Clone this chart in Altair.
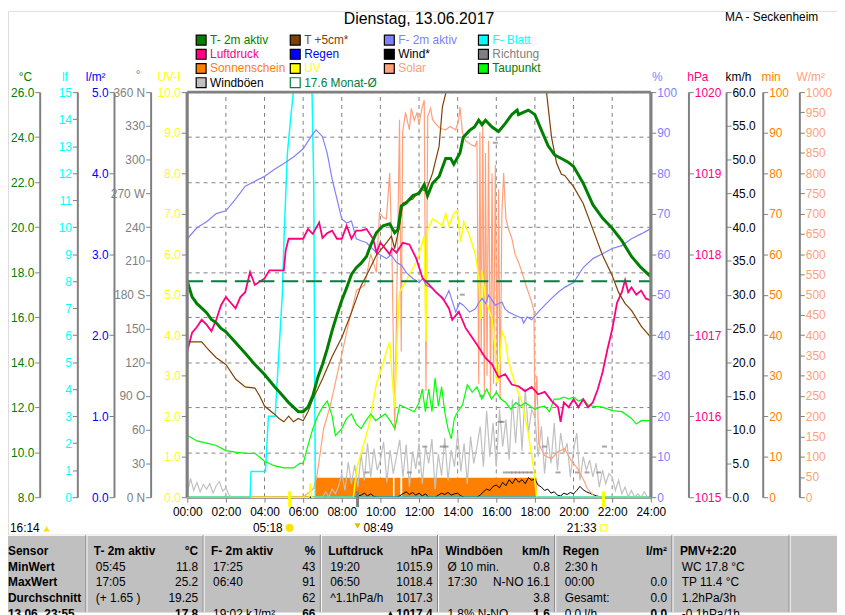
import altair as alt
import pandas as pd

FONT = "Liberation Sans"
GRAY = "#808080"

# ------------------------------------------------------------------ data
TITLE = "Dienstag, 13.06.2017"
STATION = "MA - Seckenheim"
DAYLEN = "16:14"

# (hour, value)
T2M = [(0.0,17.6),(0.25,16.9),(0.5,16.6),(0.75,16.4),(1.0,16.2),(1.25,15.9),(1.5,15.75),(1.75,15.5),(2.0,15.35),(2.5,14.87),(3.0,14.4),(3.5,13.9),(4.0,13.45),(4.5,12.93),(5.0,12.45),(5.25,12.2),(5.5,12.0),(5.75,11.8),(6.0,11.8),(6.25,12.0),(6.5,12.5),(6.75,13.3),(7.0,13.9),(7.25,14.6),(7.5,15.4),(7.75,16.1),(8.0,16.75),(8.25,17.3),(8.5,17.9),(8.75,18.2),(9.0,18.4),(9.28,18.7),(9.5,19.2),(9.79,19.75),(10.14,20.06),(10.48,20.15),(10.74,19.75),(10.91,19.9),(11.08,20.94),(11.33,21.07),(11.68,21.4),(12.0,21.5),(12.27,21.9),(12.44,21.4),(12.7,21.95),(13.04,22.25),(13.38,23.05),(13.64,23.05),(13.8,22.8),(14.12,23.3),(14.29,24.0),(14.62,24.3),(14.87,24.45),(15.09,24.75),(15.26,24.55),(15.44,24.75),(15.78,24.45),(16.12,24.25),(16.46,24.6),(16.8,25.0),(17.08,25.2),(17.15,25.0),(17.4,25.1),(17.66,25.2),(18.0,25.0),(18.34,24.3),(18.69,23.6),(19.03,23.2),(19.37,23.05),(19.7,22.9),(20.0,22.7),(20.5,21.95),(21.0,21.0),(21.5,20.4),(22.0,19.95),(22.5,19.4),(23.0,18.7),(23.5,18.2),(24.0,17.8)]

T5CM = [(0.0,14.9),(0.75,14.9),(1.0,14.65),(1.5,14.2),(2.0,13.9),(2.5,13.25),(3.0,12.9),(3.5,12.85),(3.75,12.5),(4.0,12.05),(4.5,11.7),(4.75,11.5),(5.0,11.35),(5.25,11.6),(5.5,11.35),(5.75,11.5),(6.0,11.4),(6.25,11.8),(6.5,12.35),(7.0,13.25),(7.5,14.25),(8.0,15.1),(8.5,16.2),(9.0,17.4),(9.28,17.85),(9.79,18.75),(10.31,19.3),(10.57,19.6),(10.74,19.05),(10.99,20.06),(11.16,21.07),(11.68,21.25),(12.1,21.7),(12.36,21.6),(12.7,22.4),(13.04,23.6),(13.21,25.35),(13.4,27.0),(14.0,29.5),(15.0,31.0),(16.0,31.5),(17.0,30.5),(18.0,28.5),(18.6,26.0),(18.86,24.0),(19.12,22.85),(19.37,22.35),(19.54,22.3),(20.0,21.8),(20.5,21.05),(21.0,19.9),(21.5,18.75),(22.0,17.85),(22.33,17.1),(22.67,16.6),(23.0,16.3),(23.5,15.6),(24.0,15.1)]

F2M = [(0.0,63.8),(0.5,66.5),(1.0,68.0),(1.5,70.0),(2.0,70.7),(2.5,73.6),(3.0,76.8),(3.5,78.0),(4.0,79.2),(4.5,80.9),(5.0,82.4),(5.5,84.0),(6.0,86.0),(6.5,89.7),(6.67,90.7),(7.0,89.0),(7.25,84.8),(7.5,78.5),(8.0,68.7),(8.25,67.7),(8.5,68.2),(8.75,63.8),(9.0,63.3),(9.28,62.8),(9.79,60.4),(10.31,58.9),(10.55,59.8),(10.83,58.0),(11.1,57.2),(11.33,55.5),(11.68,54.0),(12.0,53.0),(12.2,54.0),(12.36,52.3),(12.7,51.6),(13.04,49.9),(13.3,48.5),(13.55,51.0),(13.9,45.7),(14.1,48.0),(14.29,47.4),(14.62,45.7),(14.92,46.5),(15.1,48.0),(15.26,49.1),(15.45,47.8),(15.6,49.9),(15.95,47.4),(16.29,48.2),(16.45,46.5),(16.63,45.7),(16.97,44.9),(17.32,44.2),(17.42,43.0),(17.6,44.5),(17.83,43.8),(18.17,45.7),(18.51,47.4),(18.86,49.1),(19.2,50.6),(19.54,51.8),(20.0,53.0),(20.5,56.7),(21.0,58.9),(21.5,60.1),(22.0,61.4),(22.5,62.1),(23.0,63.8),(23.5,65.0),(24.0,66.3)]

FBLATT = [(0.0,0.0),(3.25,0.0),(3.3,0.95),(4.05,0.95),(4.2,3.0),(4.55,3.0),(4.92,7.5),(5.01,9.6),(5.18,12.7),(5.35,14.0),(5.49,15.0),(6.46,15.0),(6.55,11.5),(6.63,0.0),(24.0,0.0)]

PRESS = [(0.0,1016.8),(0.25,1017.03),(0.5,1017.1),(0.75,1017.19),(1.0,1017.13),(1.25,1017.05),(1.5,1017.19),(1.75,1017.37),(2.0,1017.47),(2.25,1017.4),(2.5,1017.33),(2.75,1017.47),(3.0,1017.53),(3.25,1017.78),(3.5,1017.62),(4.0,1017.7),(4.25,1017.8),(5.0,1017.8),(5.1,1018.05),(5.25,1018.19),(6.0,1018.19),(6.25,1018.31),(6.5,1018.25),(6.83,1018.39),(7.0,1018.2),(7.25,1018.26),(7.5,1018.29),(7.75,1018.19),(8.0,1018.19),(8.25,1018.35),(8.5,1018.19),(8.75,1018.29),(9.0,1018.29),(9.28,1018.31),(9.62,1018.19),(9.8,1018.02),(10.0,1018.14),(10.14,1018.1),(10.48,1018.0),(10.6,1018.07),(10.83,1018.02),(11.16,1018.14),(11.5,1018.12),(11.85,1017.95),(12.19,1017.7),(12.53,1017.62),(12.87,1017.53),(13.21,1017.46),(13.55,1017.33),(13.72,1017.19),(14.06,1017.29),(14.41,1017.09),(14.75,1016.97),(15.09,1016.85),(15.44,1016.72),(15.78,1016.64),(16.12,1016.48),(16.46,1016.52),(16.8,1016.39),(17.15,1016.37),(17.49,1016.31),(17.83,1016.36),(18.17,1016.27),(18.51,1016.3),(18.86,1016.19),(19.2,1016.11),(19.33,1015.93),(19.5,1016.17),(19.75,1016.11),(20.0,1016.21),(20.25,1016.11),(20.5,1016.21),(20.75,1016.11),(21.0,1016.17),(21.25,1016.33),(21.5,1016.54),(21.75,1016.82),(22.0,1017.07),(22.25,1017.4),(22.5,1017.53),(22.67,1017.68),(22.83,1017.53),(23.0,1017.59),(23.25,1017.5),(23.5,1017.55),(23.75,1017.45),(24.0,1017.43)]

DEWPT = [(0.0,10.75),(0.5,10.5),(1.0,10.4),(1.5,10.3),(2.0,10.07),(2.5,10.0),(3.0,9.95),(3.5,9.95),(4.0,9.6),(4.5,9.4),(5.0,9.3),(5.5,9.3),(5.83,9.5),(6.0,9.5),(6.25,10.3),(6.5,11.05),(6.75,11.6),(7.0,12.0),(7.25,12.27),(7.5,11.6),(7.67,10.73),(8.0,11.05),(8.25,11.5),(8.5,11.7),(8.75,11.25),(9.0,11.05),(9.25,11.4),(9.5,11.7),(9.75,11.4),(10.0,11.55),(10.25,11.7),(10.5,11.4),(10.75,11.05),(11.0,12.1),(11.25,12.0),(11.5,11.9),(11.75,11.8),(12.0,12.2),(12.17,12.8),(12.33,11.8),(12.5,12.8),(12.67,11.8),(12.83,13.3),(13.0,12.05),(13.17,12.9),(13.33,11.8),(13.5,11.05),(13.67,10.6),(13.83,11.5),(14.0,11.8),(14.25,12.1),(14.5,13.0),(14.75,12.66),(15.0,12.9),(15.25,12.36),(15.5,12.8),(15.75,12.36),(16.0,12.66),(16.25,12.36),(16.5,12.2),(16.75,11.9),(17.0,12.2),(17.25,12.05),(17.5,12.2),(17.75,12.05),(18.0,11.9),(18.25,12.0),(18.5,12.05),(18.75,11.8),(19.0,12.36),(19.25,12.36),(19.5,12.45),(19.75,12.36),(20.0,12.45),(20.25,12.27),(20.5,12.36),(20.75,12.1),(21.0,12.05),(21.5,12.0),(22.0,11.85),(22.5,11.8),(23.0,11.5),(23.25,11.25),(23.5,11.4),(24.0,11.4)]

SOLAR = [(0.0,0),(6.0,0),(6.55,22),(6.72,54),(7.06,169),(7.4,225),(7.74,298),(8.09,372),(8.43,445),(8.77,511),(9.18,523),(9.5,600),(9.79,555),(9.95,702),(10.15,690),(10.31,687),(10.48,800),(10.6,600),(10.74,164),(10.85,500),(10.99,932),(11.08,360),(11.15,900),(11.3,950),(11.5,907),(11.6,960),(11.75,930),(11.9,950),(12.0,920),(12.15,960),(12.27,980),(12.36,262),(12.45,940),(12.6,960),(12.7,932),(12.9,920),(13.1,910),(13.38,907),(13.6,915),(13.9,907),(14.05,930),(14.12,963),(14.25,900),(14.41,880),(14.7,870),(14.9,866),(15.0,880),(15.09,280),(15.15,900),(15.22,350),(15.3,930),(15.38,260),(15.44,850),(15.52,300),(15.6,880),(15.7,250),(15.78,800),(15.86,280),(15.95,820),(16.05,300),(16.12,760),(16.2,240),(16.29,700),(16.38,800),(16.5,687),(16.63,662),(16.8,640),(16.97,600),(17.15,580),(17.3,560),(17.49,530),(17.66,506),(17.83,482),(17.95,460),(18.0,198),(18.1,300),(18.2,132),(18.5,103),(18.86,95),(19.19,112),(19.54,120),(19.88,90),(20.2,71),(20.56,39),(20.7,22),(21.08,2),(21.3,0),(24.0,0)]

UVI = [(0.0,0.0),(6.3,0.0),(6.37,0.34),(6.45,0.0),(8.6,0.0),(8.77,0.7),(9.11,1.27),(9.28,1.55),(9.45,1.86),(9.79,2.8),(10.14,3.3),(10.31,3.6),(10.48,3.84),(10.6,3.0),(10.74,2.2),(10.91,4.4),(10.99,5.06),(11.4,5.4),(11.85,5.8),(12.0,6.0),(12.27,6.45),(12.36,3.84),(12.44,6.6),(12.7,6.87),(12.95,6.8),(13.2,6.7),(13.38,7.0),(13.55,6.7),(13.8,7.0),(13.98,7.07),(14.15,6.3),(14.32,6.8),(14.58,6.5),(14.92,6.0),(15.09,5.4),(15.2,4.4),(15.26,5.6),(15.44,4.9),(15.78,4.4),(15.95,3.6),(16.05,2.8),(16.12,2.95),(16.29,4.1),(16.46,3.9),(16.63,3.35),(16.97,2.8),(17.32,2.37),(17.66,1.56),(17.92,0.75),(18.09,0.0),(24.0,0.0)]

SUN_START = [6.63, 10.73, 11.13]
SUN_END = [10.65, 11.03, 18.09]
SUN_MIN = [4.8, 4.8, 4.8]

RAIN = [(0.0, 0.0), (24.0, 0.0)]

# gusts / mean wind, one value every 10 minutes 00:00 .. 24:00
GUST = [0.5, 2.8, 1.0, 2.2, 0.8, 1.9,
        1.2, 2.0, 0.6, 1.7, 2.3, 0.9,
        1.4, 0.3, 0.0, 0.0, 0.0, 0.0,
        0.0, 0.0, 0.0, 0.0, 0.0, 0.0,
        0.0, 0.0, 0.0, 0.0, 0.0, 0.0,
        0.0, 0.0, 0.0, 0.0, 0.0, 0.0,
        0.0, 0.0, 0.0, 0.0, 0.0, 0.0,
        0.0, 0.8, 0.0, 1.2, 0.5, 1.6,
        3.5, 1.0, 5.2, 2.0, 4.8, 1.5,
        6.5, 2.5, 8.0, 3.0, 7.2, 4.0,
        5.5, 8.2, 2.2, 7.0, 3.5, 6.0,
        8.5, 3.0, 7.8, 1.5, 6.8, 4.2,
        8.0, 2.0, 7.5, 5.0, 8.6, 1.2,
        6.4, 3.2, 8.8, 2.5, 7.0, 4.5,
        9.4, 3.8, 8.0, 2.0, 9.0, 5.0,
        7.5, 10.5, 4.5, 12.8, 6.0, 11.0,
        4.5, 13.0, 7.5, 11.5, 5.5, 14.5,
        8.0, 15.0, 6.9, 16.1, 9.5, 13.0,
        11.9, 6.0, 10.5, 3.5, 9.0, 5.0,
        11.0, 4.0, 9.5, 6.5, 8.0, 3.0,
        7.0, 9.5, 2.5, 6.0, 4.0, 5.5,
        3.0, 5.0, 1.5, 4.0, 2.0, 3.5,
        3.0, 1.0, 2.5, 0.5, 1.5, 0.0,
        1.0, 0.0, 0.5, 0.0, 0.8, 0.0,
        0.0]
WIND = [0, 0, 0, 0, 0, 0,
        0, 0, 0, 0, 0, 0,
        0, 0, 0, 0, 0, 0,
        0, 0, 0, 0, 0, 0,
        0, 0, 0, 0, 0, 0,
        0, 0, 0, 0, 0, 0,
        0, 0, 0, 0, 0, 0,
        0, 0, 0, 0, 0, 0,
        0, 0, 0, 0, 0, 0.2,
        0.3, 0.6, 0.2, 0.5, 0.1, 0.0,
        0.0, 0.0, 0.0, 0.0, 0.0, 0.0,
        0.2, 0.5, 0.8, 0.4, 0.7, 0.3,
        0.6, 0.2, 0.5, 0.0, 0.0, 0.0,
        0.3, 0.6, 0.4, 0.7, 0.3, 0.5,
        0.6, 0.2, 0.0, 0.0, 0.0, 0.0,
        0.0, 0.3, 0.8, 1.2, 1.0, 1.6,
        1.8, 1.4, 2.2, 1.7, 2.6, 2.0,
        2.8, 2.2, 2.6, 2.0, 2.9, 2.5,
        2.7, 1.8, 1.5, 1.0, 1.2, 0.6,
        0.8, 0.3, 0.2, 0.6, 0.4, 0.7,
        0.5, 1.0, 1.6, 1.1, 0.8, 0.6,
        0.4, 0.2, 0.1, 0.0, 0.0, 0.0,
        0, 0, 0, 0, 0, 0,
        0, 0, 0, 0, 0, 0,
        0]

DIRECTION = [(9.3,22),(11.5,22),(12.3,45),(13.2,45),(13.4,45),(14.24,180),(15.26,90),(15.95,315),(16.2,67),(16.3,67),(16.46,22),(16.7,22),(16.9,22),(17.1,22),(17.3,22),(17.5,22),(17.7,22),(17.9,22),(18.5,45),(19.2,22),(20.2,22),(20.7,22),(21.3,22),(21.6,45)]

MONTH_AVG = 17.6

EVENT_H = [5.3, 8.817, 21.55]
EVENT_TXT = ["05:18", "08:49", "21:33"]

# tick values
X_TICKS = [0, 2, 4, 6, 8, 10, 12, 14, 16, 18, 20, 22, 24]
C_TICKS = [8, 10, 12, 14, 16, 18, 20, 22, 24, 26]
LF_TICKS = [0, 1, 2, 3, 4, 5, 6, 7, 8, 9, 10, 11, 12, 13, 14, 15]
RAIN_TICKS = [0, 1, 2, 3, 4, 5]
DIR_TICKS = [0, 30, 60, 90, 120, 150, 180, 210, 240, 270, 300, 330, 360]
UV_TICKS = [0, 1, 2, 3, 4, 5, 6, 7, 8, 9, 10]
PCT_TICKS = [0, 10, 20, 30, 40, 50, 60, 70, 80, 90, 100]
HPA_TICKS = [1015, 1016, 1017, 1018, 1019, 1020]
KMH_TICKS = [0, 5, 10, 15, 20, 25, 30, 35, 40, 45, 50, 55, 60]
MIN_TICKS = [0, 10, 20, 30, 40, 50, 60, 70, 80, 90, 100]
WM2_TICKS = [0, 50, 100, 150, 200, 250, 300, 350, 400, 450, 500, 550, 600, 650,
             700, 750, 800, 850, 900, 950, 1000]

# legend
LEG_NAMES = [["T- 2m aktiv", "Luftdruck", "Sonnenschein", "Windböen"],
             ["T +5cm*", "Regen", "UV", "17.6 Monat-Ø"],
             ["F- 2m aktiv", "Wind*", "Solar"],
             ["F- Blatt", "Richtung", "Taupunkt"]]
LEG_FILL = {"T- 2m aktiv": "#008000", "Luftdruck": "#FF0080", "Sonnenschein": "#FF8000",
            "Windböen": "#C0C0C0", "T +5cm*": "#804000", "Regen": "#0000FF", "UV": "#FFFF00",
            "17.6 Monat-Ø": "#FFFFFF", "F- 2m aktiv": "#8080FF", "Wind*": "#000000",
            "Solar": "#FFA07A", "F- Blatt": "#00FFFF", "Richtung": "#808080", "Taupunkt": "#00FF00"}
LEG_TEXT = dict(LEG_FILL)
LEG_TEXT.update({"Windböen": "#000000", "17.6 Monat-Ø": "#008040", "Taupunkt": "#008000"})
LEG_STROKE = {k: "#000000" for k in LEG_FILL}
LEG_STROKE["17.6 Monat-Ø"] = "#008040"

# statistics table
ROW_LABELS = ["Sensor", "MinWert", "MaxWert", "Durchschnitt", "13.06. 23:55"]
TAB_HEAD = ["T- 2m aktiv", "F- 2m aktiv", "Luftdruck", "Windböen", "Regen", "PMV+2:20"]
TAB_UNIT = ["°C", "%", "hPa", "km/h", "l/m²", ""]
TAB_LEFT = [["05:45", "17:05", "(+ 1.65 )", ""],
            ["17:25", "06:40", "", "19:02 kJ/m²"],
            ["19:20", "06:50", "^1.1hPa/h", ""],
            ["Ø 10 min.", "17:30", "", "1.8% N-NO"],
            ["2:30 h", "00:00", "Gesamt:", "0.0 l/h"],
            ["WC 17.8 °C", "TP 11.4 °C", "1.2hPa/3h", "-0.1hPa/1h"]]
TAB_RIGHT = [["11.8", "25.2", "19.25", "17.8"],
             ["43", "91", "62", "66"],
             ["1015.9", "1018.4", "1017.3", "▲1017.4"],
             ["0.8", "N-NO 16.1", "3.8", "1.6"],
             ["", "0.0", "0.0", "0.0"],
             ["", "", "", ""]]

# ------------------------------------------------------------------ helpers
W, H = 837, 607
XS = alt.Scale(domain=[0, 24], range=[181, 649], nice=False, zero=False)
YR = [491, 82]
EV_Y = 522


def pairs(p):
    return pd.DataFrame(p, columns=["h", "v"])


def ys(lo, hi, clamp=False):
    if clamp:
        return alt.Scale(domain=[lo, hi], range=YR, nice=False, zero=False, clamp=True)
    return alt.Scale(domain=[lo, hi], range=YR, nice=False, zero=False)


def yaxis(title, color, values, orient, offset, tx, fmt=None, expr=None, grid=False, ty=66):
    kw = dict(title=title, orient=orient, offset=offset, values=values,
              labelColor=color, titleColor=color, domainColor=GRAY, domainWidth=2,
              tickColor=GRAY, tickSize=5, tickWidth=1, labelFont=FONT, labelFontSize=12,
              titleFont=FONT, titleFontSize=12, titleFontWeight="normal", titleAngle=0,
              titleX=tx, titleY=ty, titleAlign="center", titleBaseline="middle",
              labelPadding=1, labelOverlap=False, labelFlush=False, grid=grid)
    if fmt:
        kw["format"] = fmt
    if expr:
        kw["labelExpr"] = expr
    if grid:
        kw.update(gridColor=GRAY, gridDash=[4, 4], gridWidth=1, gridOpacity=1)
    return alt.Axis(**kw)


XAXIS = alt.Axis(orient="bottom", offset=-(H - 491), values=X_TICKS,
                 labelExpr="(datum.value < 10 ? '0' : '') + datum.value + ':00'",
                 domainColor=GRAY, domainWidth=2, tickColor=GRAY, tickSize=5,
                 labelColor="black", labelFont=FONT, labelFontSize=12, labelPadding=4,
                 labelFlush=False, labelOverlap=False, grid=False)


def X(field="h"):
    return alt.X(f"{field}:Q", scale=XS, axis=XAXIS, title=None)


DIR_EXPR = ("datum.value == 0 ? '0 N' : datum.value == 90 ? '90 O' : datum.value == 180 ? '180 S' : "
            "datum.value == 270 ? '270 W' : datum.value == 360 ? '360 N' : datum.value")

# ------------------------------------------------------------------ main plot layers
vgrid_df = pd.DataFrame({"h": X_TICKS[1:-1], "lo": 8, "hi": 26})
vgrid = alt.Chart(vgrid_df).mark_rule(color=GRAY, strokeDash=[4, 4], strokeWidth=1).encode(
    x=X(), y=alt.Y("lo:Q", scale=ys(8, 26), axis=None), y2="hi:Q")

sun_df = pd.DataFrame({"s": SUN_START, "e": SUN_END, "v": SUN_MIN})
sun_df["base"] = 0
sun = alt.Chart(sun_df).mark_rect(color="#FF8000").encode(
    x=X("s"), x2="e:Q",
    y=alt.Y("v:Q", scale=ys(0, 100),
            axis=yaxis("min", "#FF8000", MIN_TICKS, "right", -(W - 762), 8)),
    y2="base:Q")

rain = alt.Chart(pairs(RAIN)).mark_line(color="#0000FF", strokeWidth=1).encode(
    x=X(), y=alt.Y("v:Q", scale=ys(0, 5),
                   axis=yaxis("l/m²", "#0000FF", RAIN_TICKS, "left", -107, -19, fmt=".1f")))

gust_df = pd.DataFrame({"h": [i / 6 for i in range(len(GUST))], "v": GUST})
wind_df = pd.DataFrame({"h": [i / 6 for i in range(len(WIND))], "v": WIND})
gust = alt.Chart(gust_df).mark_line(color="#C0C0C0", strokeWidth=1.2).encode(
    x=X(), y=alt.Y("v:Q", scale=ys(0, 60),
                   axis=yaxis("km/h", "#000000", KMH_TICKS, "right", -(W - 725), 12, fmt=".1f")))
wind = alt.Chart(wind_df).mark_line(color="#000000", strokeWidth=1).encode(
    x=X(), y=alt.Y("v:Q", scale=ys(0, 60), axis=None))

direc = alt.Chart(pairs(DIRECTION)).mark_tick(color=GRAY, orient="horizontal", size=5, thickness=2).encode(
    x=X(), y=alt.Y("v:Q", scale=ys(0, 360),
                   axis=yaxis("°", GRAY, DIR_TICKS, "left", -144, -13, expr=DIR_EXPR, ty=64)))

solar = alt.Chart(pairs(SOLAR)).mark_line(color="#FFA07A", strokeWidth=1.2).encode(
    x=X(), y=alt.Y("v:Q", scale=ys(0, 1000),
                   axis=yaxis("W/m²", "#FFA07A", WM2_TICKS, "right", -(W - 799), 11, fmt="d")))

uv = alt.Chart(pairs(UVI)).mark_line(color="#FFFF00", strokeWidth=1.5).encode(
    x=X(), y=alt.Y("v:Q", scale=ys(0, 10),
                   axis=yaxis("UV-I", "#FFFF00", UV_TICKS, "left", -180, -18, fmt=".1f")))

fblatt = alt.Chart(pairs(FBLATT)).mark_line(color="#00FFFF", strokeWidth=1.5).encode(
    x=X(), y=alt.Y("v:Q", scale=ys(0, 15),
                   axis=yaxis("lf", "#00FFFF", LF_TICKS, "left", -70, -13)))

hum = alt.Chart(pairs(F2M)).mark_line(color="#8080FF", strokeWidth=1.2).encode(
    x=X(), y=alt.Y("v:Q", scale=ys(0, 100),
                   axis=yaxis("%", "#8080FF", PCT_TICKS, "right", -(W - 649), 6)))

dew = alt.Chart(pairs(DEWPT)).mark_line(color="#00FF00", strokeWidth=1.2).encode(
    x=X(), y=alt.Y("v:Q", scale=ys(8, 26), axis=None))

press = alt.Chart(pairs(PRESS)).mark_line(color="#FF0080", strokeWidth=1.8).encode(
    x=X(), y=alt.Y("v:Q", scale=ys(1015, 1020),
                   axis=yaxis("hPa", "#FF0080", HPA_TICKS, "right", -(W - 687), 9, fmt="d")))

t5 = alt.Chart(pairs(T5CM)).mark_line(color="#804000", strokeWidth=1.2).encode(
    x=X(), y=alt.Y("v:Q", scale=ys(8, 26, clamp=True), axis=None))

month = alt.Chart(pairs([(0.0, MONTH_AVG), (24.0, MONTH_AVG)])).mark_line(
    color="#008040", strokeWidth=2, strokeDash=[16, 8]).encode(
    x=X(), y=alt.Y("v:Q", scale=ys(8, 26), axis=None))

t2 = alt.Chart(pairs(T2M)).mark_line(color="#008000", strokeWidth=3).encode(
    x=X(), y=alt.Y("v:Q", scale=ys(8, 26),
                   axis=yaxis("°C", "#008000", C_TICKS, "left", -32, -15, fmt=".1f", grid=True)))

frame_df = pd.DataFrame({"h": [0, 0, 24], "h2": [0, 24, 24], "lo": [8, 26, 8], "hi": [26, 26, 26]})
frame = alt.Chart(frame_df).mark_rule(color=GRAY, strokeWidth=3).encode(
    x=X(), x2="h2:Q", y=alt.Y("lo:Q", scale=ys(8, 26), axis=None), y2="hi:Q")

ev_df = pd.DataFrame({"h": EVENT_H, "t": EVENT_TXT})
ev_yel = alt.Chart(ev_df).transform_filter("datum.t != '08:49'")
ev_gry = alt.Chart(ev_df).transform_filter("datum.t == '08:49'")
ev_layers = [
    ev_yel.mark_rule(color="#FFFF00", strokeWidth=3).encode(x=X(), y=alt.value(485), y2=alt.value(501)),
    ev_gry.mark_rule(color=GRAY, strokeWidth=3).encode(x=X(), y=alt.value(485), y2=alt.value(501)),
    ev_yel.mark_text(align="right", baseline="middle", dx=-7, font=FONT, fontSize=12, color="black").encode(
        x=X(), y=alt.value(EV_Y), text="t:N"),
    ev_gry.mark_text(align="left", baseline="middle", dx=6, font=FONT, fontSize=12, color="black").encode(
        x=X(), y=alt.value(EV_Y), text="t:N"),
    alt.Chart(ev_df).transform_filter("datum.t == '05:18'").mark_point(
        shape="circle", filled=True, color="#FFE000", size=70, opacity=1).encode(x=X(), y=alt.value(EV_Y)),
    ev_gry.mark_point(shape="triangle-down", filled=True, color="#E0C000", size=40, opacity=1).encode(
        x=X(), y=alt.value(EV_Y - 2)),
    alt.Chart(ev_df).transform_filter("datum.t == '21:33'").mark_point(
        shape="square", filled=False, color="#FFFF00", size=40, strokeWidth=1.5).encode(x=X(), y=alt.value(EV_Y)),
]

main = alt.layer(vgrid, sun, rain, gust, wind, direc, solar, uv, fblatt, hum, dew, press,
                 t5, month, t2, frame, *ev_layers).resolve_scale(y="independent")

# ------------------------------------------------------------------ legend
leg_rows = []
for c, col in enumerate(LEG_NAMES):
    for r, name in enumerate(col):
        leg_rows.append({"name": name, "c": c, "r": r})
leg_df = pd.DataFrame(leg_rows)
names = list(leg_df["name"])
LX = alt.X("c:Q", scale=alt.Scale(domain=[0, 3], range=[195, 480], nice=False, zero=False), axis=None)
LY = alt.Y("r:Q", scale=alt.Scale(domain=[0, 3], range=[29.5, 72.5], nice=False, zero=False), axis=None)
leg_sq = alt.Chart(leg_df).mark_square(size=100, strokeWidth=1.2, opacity=1).encode(
    x=LX, y=LY,
    fill=alt.Fill("name:N", scale=alt.Scale(domain=names, range=[LEG_FILL[n] for n in names]), legend=None),
    stroke=alt.Stroke("name:N", scale=alt.Scale(domain=names, range=[LEG_STROKE[n] for n in names]), legend=None))
leg_tx = alt.Chart(leg_df).mark_text(align="left", baseline="middle", dx=9, font=FONT, fontSize=12).encode(
    x=LX, y=LY, text="name:N",
    color=alt.Color("name:N", scale=alt.Scale(domain=names, range=[LEG_TEXT[n] for n in names]), legend=None))
legend = alt.layer(leg_sq, leg_tx)

# ------------------------------------------------------------------ header texts
one = pd.DataFrame({"t": [TITLE]})
title_t = alt.Chart(one).mark_text(font=FONT, fontSize=16, align="center", baseline="middle").encode(
    x=alt.value(415), y=alt.value(8), text="t:N")
stat_t = alt.Chart(pd.DataFrame({"t": [STATION]})).mark_text(
    font=FONT, fontSize=12, align="right", baseline="middle").encode(x=alt.value(818), y=alt.value(6), text="t:N")
day_t = alt.Chart(pd.DataFrame({"t": [DAYLEN]})).mark_text(
    font=FONT, fontSize=12, align="left", baseline="middle").encode(x=alt.value(2), y=alt.value(EV_Y), text="t:N")
day_i = alt.Chart(pd.DataFrame({"t": [DAYLEN]})).mark_point(
    shape="triangle-up", filled=True, color="#FFE000", size=40, opacity=1).encode(x=alt.value(39), y=alt.value(EV_Y + 1))

# ------------------------------------------------------------------ table
rows = []
for g in range(len(TAB_HEAD)):
    rows.append({"g": g, "g1": g + 1, "r": 0, "left": TAB_HEAD[g], "right": TAB_UNIT[g]})
    for i in range(4):
        rows.append({"g": g, "g1": g + 1, "r": i + 1, "left": TAB_LEFT[g][i], "right": TAB_RIGHT[g][i]})
tab_df = pd.DataFrame(rows)
TSX = alt.Scale(domain=[0, 6], range=[78.7, 788.7], nice=False, zero=False)
TY = alt.Y("r:Q", scale=alt.Scale(domain=[0, 4], range=[545, 609], nice=False, zero=False), axis=None)

tab_bg = alt.Chart(pd.DataFrame({"t": [0]})).mark_rect(color="#C0C0C0").encode(
    x=alt.value(0), x2=alt.value(W), y=alt.value(529), y2=alt.value(H))
sep_df = pd.DataFrame({"g": [0, 1, 2, 3, 4, 5, 6]})
sep_d = alt.Chart(sep_df).mark_rule(color=GRAY, strokeWidth=1).encode(
    x=alt.X("g:Q", scale=TSX, axis=None), y=alt.value(529), y2=alt.value(H))
sep_w = alt.Chart(sep_df).mark_rule(color="#FFFFFF", strokeWidth=1, xOffset=1).encode(
    x=alt.X("g:Q", scale=TSX, axis=None), y=alt.value(529), y2=alt.value(H))
tab_top = alt.Chart(pd.DataFrame({"t": [0]})).mark_rule(color="#FFFFFF", strokeWidth=1).encode(
    x=alt.value(0), x2=alt.value(W), y=alt.value(529.5))

tb = alt.Chart(tab_df)
head_l = tb.transform_filter("datum.r == 0").mark_text(
    align="left", baseline="middle", dx=8, font=FONT, fontSize=12, fontWeight="bold").encode(
    x=alt.X("g:Q", scale=TSX, axis=None), y=TY, text="left:N")
head_r = tb.transform_filter("datum.r == 0").mark_text(
    align="right", baseline="middle", dx=-5, font=FONT, fontSize=12, fontWeight="bold").encode(
    x=alt.X("g1:Q", scale=TSX, axis=None), y=TY, text="right:N")
body_l = tb.transform_filter("datum.r > 0").mark_text(
    align="left", baseline="middle", dx=10, font=FONT, fontSize=12).encode(
    x=alt.X("g:Q", scale=TSX, axis=None), y=TY, text="left:N")
body_r = tb.transform_filter("datum.r > 0 && datum.r < 4").mark_text(
    align="right", baseline="middle", dx=-5, font=FONT, fontSize=12).encode(
    x=alt.X("g1:Q", scale=TSX, axis=None), y=TY, text="right:N")
last_r = tb.transform_filter("datum.r == 4").mark_text(
    align="right", baseline="middle", dx=-5, font=FONT, fontSize=12, fontWeight="bold").encode(
    x=alt.X("g1:Q", scale=TSX, axis=None), y=TY, text="right:N")
sens = alt.Chart(pd.DataFrame({"r": [0, 1, 2, 3, 4], "t": ROW_LABELS})).mark_text(
    align="left", baseline="middle", font=FONT, fontSize=12, fontWeight="bold").encode(
    x=alt.value(0), y=TY, text="t:N")

table = alt.layer(tab_bg, tab_top, sep_d, sep_w, head_l, head_r, body_l, body_r, last_r, sens)

# ------------------------------------------------------------------ compose
chart = alt.layer(main, legend, table, title_t, stat_t, day_t, day_i).resolve_scale(
    x="independent", y="independent", color="independent", fill="independent", stroke="independent"
).properties(
    width=W, height=H, padding=0, autosize=alt.AutoSizeParams(type="none")
).configure_view(strokeWidth=0).configure(font=FONT)

chart.save("out.html", embed_options={"renderer": "svg", "actions": False})
